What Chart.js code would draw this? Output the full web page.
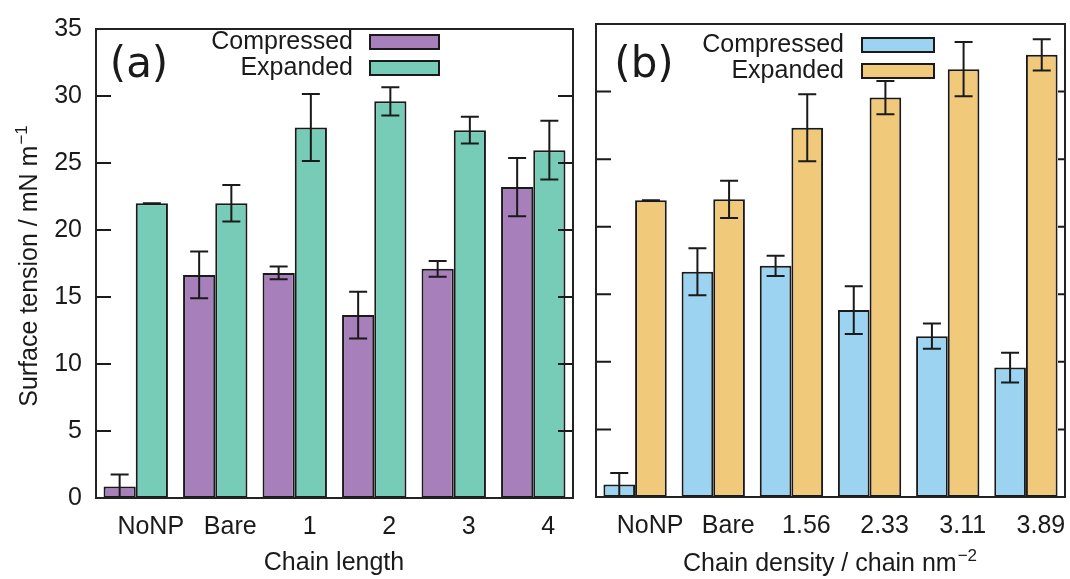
<!DOCTYPE html>
<html><head><meta charset="utf-8">
<script src="https://cdn.jsdelivr.net/npm/chart.js@4.4.1/dist/chart.umd.min.js"></script>
<style>
html,body{margin:0;padding:0;background:#fff;}
#wrap{position:relative;width:1070px;height:579px;overflow:hidden;}
.pane{position:absolute;top:0;height:579px;}
</style></head><body>
<div id="wrap">
<div class="pane" style="left:0;width:580px"><canvas id="ca" width="580" height="579"></canvas></div>
<div class="pane" style="left:580px;width:490px"><canvas id="cb" width="490" height="579"></canvas></div>
</div>
<script>
// ---- data ----
const chainLengthLabels = ['NoNP', 'Bare', '1', '2', '3', '4'];
const compressedA = [0.85, 16.65, 16.8, 13.65, 17.1, 23.2];
const compressedAErr = [0.9, 1.75, 0.47, 1.74, 0.58, 2.17];
const expandedA = [22.0, 22.0, 27.65, 29.6, 27.45, 25.96];
const expandedAErr = [0, 1.36, 2.5, 1.05, 1.0, 2.2];

const densityLabels = ['NoNP', 'Bare', '1.56', '2.33', '3.11', '3.89'];
const compressedB = [0.92, 16.67, 17.11, 13.83, 11.9, 9.58];
const compressedBErr = [0.86, 1.74, 0.75, 1.76, 0.93, 1.1];
const expandedB = [21.96, 22.03, 27.33, 29.56, 31.66, 32.72];
const expandedBErr = [0, 1.38, 2.48, 1.23, 2.0, 1.16];

const yTickValues = [0, 5, 10, 15, 20, 25, 30, 35];
const seriesNames = ['Compressed', 'Expanded'];

const FONT = '"Liberation Sans", Arial, Helvetica, sans-serif';
const INK = '#1a1a1a';

function drawSup(ctx, x, y, main, sup, size, angle) {
  ctx.save();
  ctx.translate(x, y);
  ctx.rotate(angle);
  ctx.fillStyle = INK;
  ctx.textBaseline = 'alphabetic';
  ctx.textAlign = 'left';
  ctx.font = size + 'px ' + FONT;
  const w1 = ctx.measureText(main).width;
  const ss = Math.round(size * 0.68);
  ctx.font = ss + 'px ' + FONT;
  const w2 = ctx.measureText(sup).width;
  const start = -(w1 + w2 + 1) / 2;
  ctx.font = size + 'px ' + FONT;
  ctx.fillText(main, start, 0);
  ctx.font = ss + 'px ' + FONT;
  ctx.fillText(sup, start + w1 + 1, -size * 0.42);
  ctx.restore();
}

const panelPlugin = {
  id: 'panel',
  afterDatasetsDraw(chart, args, o) {
    const ctx = chart.ctx;
    const {left, right, top, bottom} = chart.chartArea;
    const ys = chart.scales.y;
    ctx.save();
    // error bars
    ctx.strokeStyle = INK;
    ctx.lineWidth = 2;
    chart.data.datasets.forEach((ds, i) => {
      const meta = chart.getDatasetMeta(i);
      meta.data.forEach((bar, j) => {
        const v = ds.data[j], e = ds.errors[j];
        const yt = ys.getPixelForValue(v + e);
        const yb = ys.getPixelForValue(v - e);
        const cw = 9;
        ctx.beginPath();
        ctx.moveTo(bar.x, yt); ctx.lineTo(bar.x, Math.min(yb, bottom));
        ctx.moveTo(bar.x - cw, yt); ctx.lineTo(bar.x + cw, yt);
        if (yb < bottom - 1) { ctx.moveTo(bar.x - cw, yb); ctx.lineTo(bar.x + cw, yb); }
        ctx.stroke();
      });
    });
    // inward y ticks
    ctx.lineWidth = 2;
    ys.ticks.forEach(t => {
      const py = ys.getPixelForValue(t.value);
      ctx.beginPath();
      ctx.moveTo(left, py); ctx.lineTo(left + o.tickL, py);
      ctx.moveTo(right, py); ctx.lineTo(right - o.tickR, py);
      ctx.stroke();
    });
    // border
    ctx.lineWidth = 2;
    ctx.strokeStyle = '#222';
    ctx.strokeRect(left, top, right - left, bottom - top);
    // legend
    chart.data.datasets.forEach((ds, i) => {
      const ry = o.legendRows[i];
      ctx.font = '25px ' + FONT;
      ctx.fillStyle = INK;
      ctx.textAlign = 'right';
      ctx.textBaseline = 'middle';
      ctx.fillText(ds.label, o.legendTextRight, ry);
      ctx.fillStyle = ds.backgroundColor;
      ctx.fillRect(o.legendBox[0], ry - 7, o.legendBox[1], 14);
      ctx.strokeStyle = INK;
      ctx.lineWidth = 2;
      ctx.strokeRect(o.legendBox[0], ry - 7, o.legendBox[1], 14);
    });
    // panel tag
    ctx.font = '42px "DejaVu Sans", sans-serif';
    ctx.fillStyle = INK;
    ctx.textAlign = 'center';
    ctx.textBaseline = 'middle';
    ctx.fillText(o.tag, o.tagPos[0], o.tagPos[1]);
    // axis titles
    if (o.yTitle) drawSup(ctx, o.yTitle.x, o.yTitle.y, o.yTitle.main, o.yTitle.sup, 25, -Math.PI / 2);
    if (o.xTitle.sup) {
      drawSup(ctx, o.xTitle.x, o.xTitle.y, o.xTitle.main, o.xTitle.sup, 25, 0);
    } else {
      ctx.font = '25px ' + FONT;
      ctx.textAlign = 'center';
      ctx.textBaseline = 'alphabetic';
      ctx.fillText(o.xTitle.main, o.xTitle.x, o.xTitle.y);
    }
    ctx.restore();
  }
};

function makeChart(id, labels, c, cErr, e, eErr, colors, cfg) {
  return new Chart(document.getElementById(id), {
    type: 'bar',
    data: {
      labels: labels,
      datasets: [
        {label: seriesNames[0], data: c, errors: cErr, backgroundColor: colors[0]},
        {label: seriesNames[1], data: e, errors: eErr, backgroundColor: colors[1]}
      ]
    },
    options: {
      responsive: false,
      animation: false,
      devicePixelRatio: 1,
      layout: {padding: {left: cfg.padLeft, right: cfg.padRight, top: cfg.padTop, bottom: 0}},
      datasets: {bar: {categoryPercentage: 0.81, barPercentage: 1.0, borderColor: INK, borderWidth: 2, borderSkipped: false}},
      plugins: {
        legend: {display: false},
        tooltip: {enabled: false},
        panel: cfg.panel
      },
      scales: {
        x: {
          type: 'category',
          grid: {display: false, drawTicks: false},
          border: {display: false},
          ticks: {font: {size: 25, family: FONT}, color: INK, padding: 14, labelOffset: 15, maxRotation: 0, autoSkip: false},
          afterFit: s => { s.height = cfg.xHeight; }
        },
        y: {
          min: 0, max: 35,
          grid: {display: false, drawTicks: false},
          border: {display: false},
          afterBuildTicks: s => { s.ticks = yTickValues.map(v => ({value: v})); },
          ticks: {display: cfg.yLabels, font: {size: 25, family: FONT}, color: INK, padding: 14},
          afterFit: s => { s.width = cfg.yWidth; }
        }
      }
    },
    plugins: [panelPlugin]
  });
}

makeChart('ca', chainLengthLabels, compressedA, compressedAErr, expandedA, expandedAErr,
  ['#a67fbb', '#77ccb8'],
  {padLeft: 0, padRight: 7, padTop: 23, xHeight: 81, yWidth: 96, yLabels: true,
   panel: {tickL: 15, tickR: 15, legendRows: [42, 68], legendTextRight: 353, legendBox: [370, 69],
     tag: '(a)', tagPos: [139, 66],
     yTitle: {x: 37, y: 266, main: 'Surface tension / mN m', sup: '−1'},
     xTitle: {x: 334, y: 570, main: 'Chain length'}}});

makeChart('cb', densityLabels, compressedB, compressedBErr, expandedB, expandedBErr,
  ['#9bd3f0', '#f0c97b'],
  {padLeft: 0, padRight: 5, padTop: 24, xHeight: 82, yWidth: 16, yLabels: false,
   panel: {tickL: 15, tickR: 7, legendRows: [45, 71], legendTextRight: 264, legendBox: [282, 72],
     tag: '(b)', tagPos: [64, 66],
     yTitle: null,
     xTitle: {x: 250, y: 571, main: 'Chain density / chain nm', sup: '−2'}}});
</script>
</body></html>
